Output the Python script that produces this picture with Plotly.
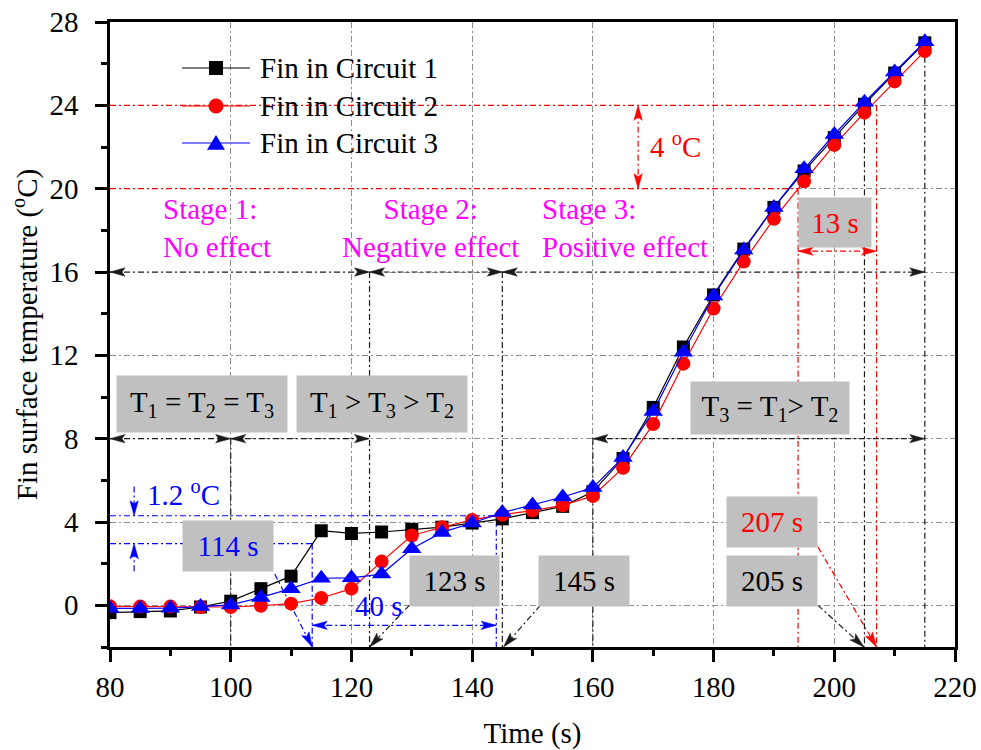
import math
import plotly.graph_objects as go

# ---------------------------------------------------------------- data
time_s = [80, 85, 90, 95, 100, 105, 110, 115, 120, 125, 130, 135, 140, 145,
          150, 155, 160, 165, 170, 175, 180, 185, 190, 195, 200, 205, 210, 215]

fin_c1 = [-0.35, -0.30, -0.27, -0.08, 0.20, 0.80, 1.40, 3.58, 3.45, 3.52, 3.65,
          3.75, 3.95, 4.15, 4.45, 4.75, 5.45, 7.05, 9.50, 12.40, 14.90, 17.10,
          19.10, 20.85, 22.45, 24.05, 25.55, 27.00]
fin_c2 = [-0.05, -0.06, -0.06, -0.08, -0.08, -0.02, 0.08, 0.35, 0.80, 2.10, 3.35,
          3.75, 4.10, 4.35, 4.55, 4.80, 5.25, 6.60, 8.70, 11.60, 14.25, 16.50,
          18.55, 20.35, 22.10, 23.65, 25.15, 26.60]
fin_c3 = [-0.15, -0.15, -0.14, -0.06, 0.02, 0.38, 0.80, 1.30, 1.32, 1.50, 2.72,
          3.50, 3.95, 4.45, 4.82, 5.20, 5.65, 7.10, 9.30, 12.15, 14.85, 17.05,
          19.10, 20.95, 22.60, 24.15, 25.60, 27.05]

series_names = ["Fin in Circuit 1", "Fin in Circuit 2", "Fin in Circuit 3"]
series_colors = ["#000000", "#ff0000", "#0000ff"]
series_symbols = ["square", "circle", "triangle-up"]
series_sizes = [13, 14, 17]

x_ticks = [80, 100, 120, 140, 160, 180, 200, 220]
y_ticks = [0, 4, 8, 12, 16, 20, 24, 28]
x_range = [80, 220]
y_range = [-2, 28]

# key instants (s) and temperature levels (°C) marked on the chart
stage_bounds = [80, 123, 145, 215]        # stage spans, drawn at 16 °C
stage_level = 16
order_bounds_a = [80, 100, 123]           # T-order spans, drawn at 8 °C
order_bounds_b = [160, 215]
order_level = 8
drop_t = [100, 123, 145, 160, 205, 215]   # black drop lines
drop_top = [8, 16, 16, 8, 24, 27]
red_t = [194, 207]                        # 20 °C and 24 °C reached by circuit 2
red_levels = [20, 24]
red_span_level = 17                       # "13 s" span
red_dT_t = 167.5                          # "4 °C" span
blue_t = [113.5, 144]                     # circuit 3 delay window
blue_levels = [2.96, 4.3]
blue_span_level = -0.96                   # "40 s" span
blue_dT_t = 84                            # "1.2 °C" marker position
blue_dT_tails = [5.7, 1.63]

# ---------------------------------------------------------------- layout geometry
W, H = 981, 750
ML, MR, MT, MB = 110, 26, 22, 103
PW, PH = W - ML - MR, H - MT - MB
SX = PW / (x_range[1] - x_range[0])   # px per second
SY = PH / (y_range[1] - y_range[0])   # px per °C

FONT = "Liberation Serif, Times New Roman, serif"
FS = 29
DASH = "6px,3px,2px,3px"
BLACK_GUIDE = "#1a1a1a"

fig = go.Figure()

for name, yv, col, sym, sz in zip(series_names, [fin_c1, fin_c2, fin_c3],
                                  series_colors, series_symbols, series_sizes):
    fig.add_trace(go.Scatter(
        x=time_s, y=yv, name=name, mode="lines+markers",
        line=dict(color=col, width=1.2),
        marker=dict(symbol=sym, size=sz, color=col, line=dict(width=0)),
        showlegend=False,
    ))

shapes = []
annotations = []


def seg(x0, y0, x1, y1, color, width=1.2, dash=DASH):
    shapes.append(dict(type="line", xref="x", yref="y", x0=x0, y0=y0, x1=x1, y1=y1,
                       line=dict(color=color, width=width, dash=dash), layer="between"))


def head(xt, yt, xs, ys, color, length=15, half=4.2):
    """Filled arrowhead with its tip at (xt, yt), pointing away from (xs, ys)."""
    ux, uy = (xt - xs) * SX, (yt - ys) * SY
    n = math.hypot(ux, uy)
    ux, uy = ux / n, uy / n
    px, py = -uy, ux
    pts = [(0, 0),
           (-ux * length + px * half, -uy * length + py * half),
           (-ux * length * 0.8, -uy * length * 0.8),
           (-ux * length - px * half, -uy * length - py * half)]
    path = "M " + " L ".join(f"{xt + a / SX:.4f},{yt + b / SY:.4f}" for a, b in pts) + " Z"
    shapes.append(dict(type="path", xref="x", yref="y", path=path,
                       fillcolor=color, line=dict(color=color, width=0.5), layer="above"))


def span(a, b, y, color):
    seg(a, y, b, y, color)
    head(a, y, b, y, color)
    head(b, y, a, y, color)


def vspan(x, a, b, color):
    seg(x, a, x, b, color)
    head(x, a, x, b, color)
    head(x, b, x, a, color)


def pointer(xs, ys, xt, yt, color):
    seg(xs, ys, xt, yt, color)
    head(xt, yt, xs, ys, color)


# stage spans at 16 °C and temperature-order spans at 8 °C
for a, b in zip(stage_bounds[:-1], stage_bounds[1:]):
    span(a, b, stage_level, BLACK_GUIDE)
for a, b in zip(order_bounds_a[:-1], order_bounds_a[1:]):
    span(a, b, order_level, BLACK_GUIDE)
span(order_bounds_b[0], order_bounds_b[1], order_level, BLACK_GUIDE)

# black drop lines
for t, top in zip(drop_t, drop_top):
    seg(t, top, t, y_range[0], BLACK_GUIDE)

# red guides: 20 / 24 °C levels and the 13 s gap
for t, lev in zip(red_t, red_levels):
    seg(x_range[0], lev, t, lev, "#ff0000")
    seg(t, lev, t, y_range[0], "#ff0000")
vspan(red_dT_t, red_levels[0], red_levels[1], "#ff0000")
span(red_t[0], red_t[1], red_span_level, "#ff0000")

# blue guides: circuit 3 lag
for t, lev in zip(blue_t, blue_levels):
    seg(x_range[0], lev, t, lev, "#0000ff")
    seg(t, lev, t, y_range[0], "#0000ff")
span(blue_t[0], blue_t[1], blue_span_level, "#0000ff")
pointer(blue_dT_t, blue_dT_tails[0], blue_dT_t, blue_levels[1], "#0000ff")
pointer(blue_dT_t, blue_dT_tails[1], blue_dT_t, blue_levels[0], "#0000ff")

# pointers from the time labels to the axis
pointer(107.3, 1.5, blue_t[0], y_range[0], "#0000ff")
pointer(129.6, 0.0, 123, y_range[0], BLACK_GUIDE)
pointer(151.3, 0.0, 145.2, y_range[0], BLACK_GUIDE)
pointer(197.3, 0.0, 204.9, y_range[0], BLACK_GUIDE)
pointer(197.3, 2.8, 207, y_range[0], "#ff0000")


def box(x, y, text, color, w, h):
    annotations.append(dict(x=x, y=y, xref="x", yref="y", text=text, showarrow=False,
                            font=dict(family=FONT, size=FS, color=color),
                            bgcolor="#c0c0c0", width=w, height=h, borderpad=0,
                            xanchor="center", yanchor="middle", valign="middle"))


def label(x, y, text, color, xanchor="left", align="left"):
    annotations.append(dict(x=x, y=y, xref="x", yref="y", text=text, showarrow=False,
                            font=dict(family=FONT, size=FS, color=color),
                            xanchor=xanchor, yanchor="middle", align=align))


box(95.2, 9.65, "T<sub>1</sub> = T<sub>2</sub> = T<sub>3</sub>", "#000000", 170, 56)
box(125.0, 9.65, "T<sub>1</sub> &gt; T<sub>3</sub> &gt; T<sub>2</sub>", "#000000", 170, 56)
box(189.4, 9.48, "T<sub>3</sub> = T<sub>1</sub>&gt; T<sub>2</sub>", "#000000", 158, 52)
box(99.5, 2.83, "114 s", "#0000ff", 90, 50)
box(137.1, 1.19, "123 s", "#000000", 89, 50)
box(158.55, 1.19, "145 s", "#000000", 90, 50)
box(189.75, 1.15, "205 s", "#000000", 90, 50)
box(189.75, 4.0, "207 s", "#ff0000", 90, 50)
box(200.1, 18.37, "13 s", "#ff0000", 72, 49)

label(88.5, 18.1, "Stage 1:<br>No effect", "#ff00ff")
label(133.1, 18.1, "Stage 2:<br>Negative effect", "#ff00ff", "center", "center")
label(151.3, 18.1, "Stage 3:<br>Positive effect", "#ff00ff")
label(169.2, 22.1, "4 <sup>o</sup>C", "#ff0000")
label(85.8, 5.4, "1.2 <sup>o</sup>C", "#0000ff")
label(124.6, -0.05, "40 s", "#0000ff", "center", "center")

# ---------------------------------------------------------------- legend (top left)
LEG_LINE = (182, 250)      # px, sample line extent
LEG_MARK_X = 216           # px, sample marker centre
LEG_TEXT_X = 258           # px, label start
LEG_ROWS = [68, 106, 143]  # px, row centres


def px2paper(xp, yp):
    return (xp - ML) / PW, 1 - (yp - MT) / PH


for name, col, sym, sz, row in zip(series_names, series_colors, series_symbols,
                                   [14, 15, 18], LEG_ROWS):
    x0, y0 = px2paper(LEG_LINE[0], row)
    x1, _ = px2paper(LEG_LINE[1], row)
    shapes.append(dict(type="line", xref="paper", yref="paper", x0=x0, x1=x1, y0=y0, y1=y0,
                       line=dict(color=col, width=1.2), layer="above"))
    h = sz / 2
    if sym == "square":
        a0, b0 = px2paper(LEG_MARK_X - h, row + h)
        a1, b1 = px2paper(LEG_MARK_X + h, row - h)
        shapes.append(dict(type="rect", xref="paper", yref="paper", x0=a0, x1=a1, y0=b0, y1=b1,
                           fillcolor=col, line=dict(width=0), layer="above"))
    elif sym == "circle":
        a0, b0 = px2paper(LEG_MARK_X - h, row + h)
        a1, b1 = px2paper(LEG_MARK_X + h, row - h)
        shapes.append(dict(type="circle", xref="paper", yref="paper", x0=a0, x1=a1, y0=b0, y1=b1,
                           fillcolor=col, line=dict(width=0), layer="above"))
    else:
        pts = [px2paper(LEG_MARK_X, row - 0.9 * h), px2paper(LEG_MARK_X - h, row + 0.75 * h),
               px2paper(LEG_MARK_X + h, row + 0.75 * h)]
        path = "M " + " L ".join(f"{a:.5f},{b:.5f}" for a, b in pts) + " Z"
        shapes.append(dict(type="path", xref="paper", yref="paper", path=path,
                           fillcolor=col, line=dict(width=0), layer="above"))
    tx, ty = px2paper(LEG_TEXT_X, row)
    annotations.append(dict(x=tx, y=ty, xref="paper", yref="paper", text=name,
                            showarrow=False, xanchor="left", yanchor="middle",
                            font=dict(family=FONT, size=FS, color="black")))

axis_common = dict(
    showline=True, linecolor="black", linewidth=2.5, mirror=True,
    ticks="outside", ticklen=12, tickwidth=2.5, tickcolor="black",
    showgrid=True, gridcolor="#8c8c8c", gridwidth=1, griddash=DASH,
    zeroline=False, automargin=False,
    tickfont=dict(family=FONT, size=FS, color="black"),
)

fig.update_layout(
    width=W, height=H,
    margin=dict(l=ML, r=MR, t=MT, b=MB),
    paper_bgcolor="white", plot_bgcolor="white",
    font=dict(family=FONT, size=FS, color="black"),
    shapes=shapes, annotations=annotations,
    showlegend=False,
    xaxis=dict(range=x_range, tickvals=x_ticks, ticklabelstandoff=0,
               minor=dict(ticks="outside", ticklen=6, tickwidth=2.5, dtick=10,
                          tick0=80, tickcolor="black", showgrid=False),
               title=dict(text="Time (s)", font=dict(family=FONT, size=FS), standoff=30),
               **axis_common),
    yaxis=dict(range=y_range, tickvals=y_ticks, ticklabelstandoff=11,
               minor=dict(ticks="outside", ticklen=6, tickwidth=2.5, dtick=2,
                          tick0=0, tickcolor="black", showgrid=False),
               title=dict(text="Fin surface temperature (<sup>o</sup>C)",
                          font=dict(family=FONT, size=FS), standoff=4),
               **axis_common),
)

fig.write_html("out.html")
